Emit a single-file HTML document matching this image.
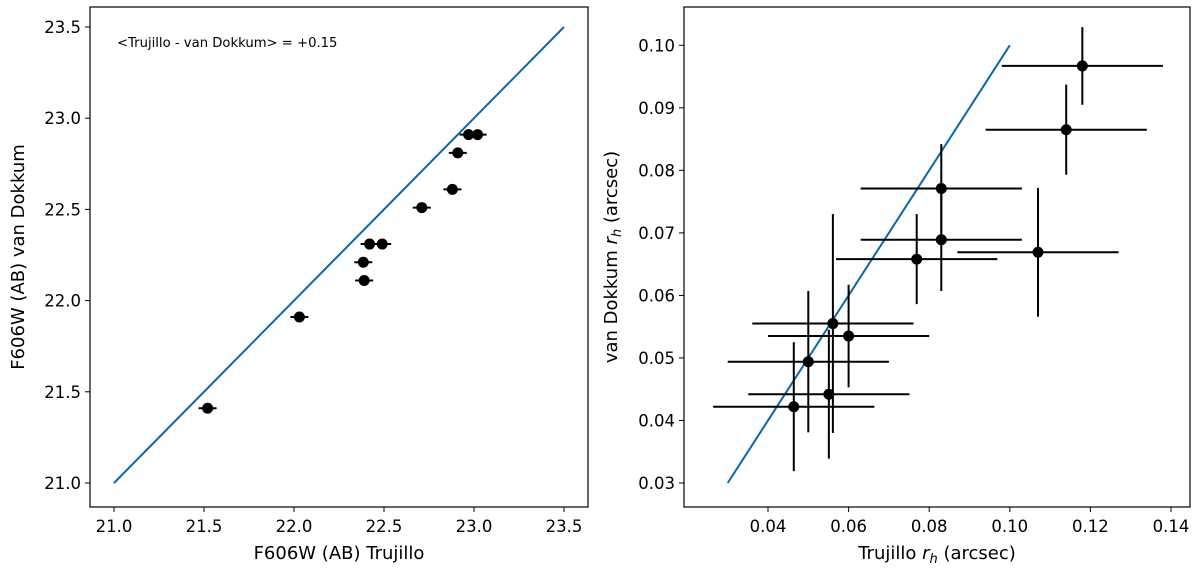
<!DOCTYPE html>
<html><head><meta charset="utf-8"><style>
body{margin:0;background:#fff}
text{font-family:"DejaVu Sans","Liberation Sans",sans-serif;fill:#000}
</style></head><body>
<svg id="c" width="1200" height="576" viewBox="0 0 1200 576" xmlns="http://www.w3.org/2000/svg"></svg>
<script>
// Left panel data
const magTrujillo=[21.52,22.03,22.39,22.385,22.42,22.49,22.71,22.88,22.91,22.97,23.02];
const magVanDokkum=[21.41,21.91,22.11,22.21,22.31,22.31,22.51,22.61,22.81,22.91,22.91];
const magErr=[0.05,0.05,0.05,0.05,0.05,0.05,0.05,0.05,0.05,0.05,0.05];
const leftTicks=[21.0,21.5,22.0,22.5,23.0,23.5];
// Right panel data
const rhTrujillo=[0.118,0.114,0.083,0.083,0.0769,0.107,0.0561,0.060,0.050,0.0551,0.0464];
const rhVanDokkum=[0.0967,0.0865,0.0771,0.0689,0.0658,0.0669,0.0555,0.0535,0.0494,0.0442,0.0422];
const rhTrujilloErr=[0.02,0.02,0.02,0.02,0.02,0.02,0.02,0.02,0.02,0.02,0.02];
const rhVanDokkumErr=[0.0062,0.0072,0.0071,0.0082,0.0072,0.0103,0.0175,0.0082,0.0113,0.0103,0.0103];
const rightXTicks=[0.04,0.06,0.08,0.10,0.12,0.14];
const rightYTicks=[0.03,0.04,0.05,0.06,0.07,0.08,0.09,0.10];

const svg=document.getElementById('c');
const NS='http://www.w3.org/2000/svg';
function mk(tag,attrs,parent){const e=document.createElementNS(NS,tag);for(const k in attrs)e.setAttribute(k,attrs[k]);(parent||svg).appendChild(e);return e;}

const Lx=v=>114+(v-21.0)*180;
const Ly=v=>483-(v-21.0)*182.4;
const Rx=v=>768+(v-0.04)*4030;
const Ry=v=>483-(v-0.03)*6253;

function panel(x0,y0,x1,y1,name,xt,yt,fx,fy,fmt){
  const g=mk('g',{});
  
  
  xt.forEach(t=>{const x=fx(t);
    const l=mk('line',{x1:x,x2:x,y1:y1,y2:y1+5,stroke:'#000','stroke-width':1},g);
    
    const tx=mk('text',{x:x,y:y1+25,'font-size':16.5,'text-anchor':'middle'},g);tx.textContent=fmt(t);
    });
  yt.forEach(t=>{const y=fy(t);
    const l=mk('line',{x1:x0-5,x2:x0,y1:y,y2:y,stroke:'#000','stroke-width':1},g);
    
    const tx=mk('text',{x:x0-9,y:y+6,'font-size':16.5,'text-anchor':'end'},g);tx.textContent=fmt(t);
    });
  return g;
}
function frame(x0,y0,x1,y1,name){const r=mk('rect',{x:x0,y:y0,width:x1-x0,height:y1-y0,fill:'none',stroke:'#000','stroke-width':1.2});
  }

panel(90,7,588,507,'left-axes',leftTicks,leftTicks,Lx,Ly,t=>t.toFixed(1));
panel(684,7,1190,507,'right-axes',rightXTicks,rightYTicks,Rx,Ry,t=>t.toFixed(2));

let ln=mk('line',{x1:Lx(21),y1:Ly(21),x2:Lx(23.5),y2:Ly(23.5),stroke:'#0868ac','stroke-width':2});

magTrujillo.forEach((v,i)=>{
  const x=Lx(v),y=Ly(magVanDokkum[i]);
  const e=mk('line',{x1:Lx(v-magErr[i]),x2:Lx(v+magErr[i]),y1:y,y2:y,stroke:'#000','stroke-width':2});
  
  const c=mk('circle',{cx:x,cy:y,r:5.5,fill:'#000'});
  
});
ln=mk('line',{x1:Rx(0.03),y1:Ry(0.03),x2:Rx(0.10),y2:Ry(0.10),stroke:'#0868ac','stroke-width':2});

rhTrujillo.forEach((v,i)=>{
  const x=Rx(v),y=Ry(rhVanDokkum[i]);
  const h=mk('line',{x1:Rx(v-rhTrujilloErr[i]),x2:Rx(v+rhTrujilloErr[i]),y1:y,y2:y,stroke:'#000','stroke-width':2});
  
  const vv=mk('line',{x1:x,x2:x,y1:Ry(rhVanDokkum[i]-rhVanDokkumErr[i]),y2:Ry(rhVanDokkum[i]+rhVanDokkumErr[i]),stroke:'#000','stroke-width':2});
  
  const c=mk('circle',{cx:x,cy:y,r:5.5,fill:'#000'});
  
});
frame(90,7,588,507,'left-frame');
frame(684,7,1190,507,'right-frame');
</script>
<svg width="1200" height="576" style="position:absolute;left:0;top:0" xmlns="http://www.w3.org/2000/svg">
<text x="117" y="47" font-size="13.2">&lt;Trujillo - van Dokkum&gt; = +0.15</text>
<text x="339" y="559" font-size="18" text-anchor="middle">F606W (AB) Trujillo</text>
<text transform="translate(24,257) rotate(-90)" font-size="18" text-anchor="middle">F606W (AB) van Dokkum</text>
<text x="937" y="559" font-size="18" text-anchor="middle">Trujillo <tspan font-style="italic">r</tspan><tspan font-style="italic" font-size="13" dy="4">h</tspan><tspan dy="-4"> (arcsec)</tspan></text>
<text transform="translate(617,257) rotate(-90)" font-size="18" text-anchor="middle">van Dokkum <tspan font-style="italic">r</tspan><tspan font-style="italic" font-size="13" dy="4">h</tspan><tspan dy="-4"> (arcsec)</tspan></text>
</svg>
</body></html>
